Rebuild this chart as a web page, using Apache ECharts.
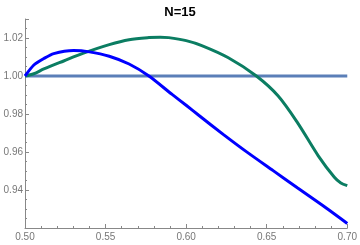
<!DOCTYPE html>
<html><head><meta charset="utf-8">
<script src="https://cdn.jsdelivr.net/npm/echarts@6/dist/echarts.min.js"></script>
<style>html,body{margin:0;padding:0;background:#fff}#c{width:360px;height:245px}</style>
</head><body><div id="c"></div>
<script>
const title = "N=15";
const xTicks = [0.50, 0.55, 0.60, 0.65, 0.70];
const yTicks = [0.94, 0.96, 0.98, 1.00, 1.02];
const blueX = [0.5000, 0.5055, 0.5117, 0.5178, 0.5302, 0.5400, 0.5523, 0.5646, 0.5769, 0.5913, 0.600, 0.608, 0.623, 0.638, 0.654, 0.669, 0.685, 0.700];
const blueY = [1.0000, 1.0058, 1.0092, 1.0118, 1.0134, 1.0127, 1.0104, 1.0063, 1.0000, 0.9903, 0.9846, 0.9792, 0.9693, 0.9598, 0.9502, 0.9412, 0.9317, 0.9224];
const greenX = [0.5000, 0.5055, 0.5117, 0.5240, 0.5363, 0.5523, 0.5646, 0.5769, 0.584, 0.5892, 0.600, 0.6097, 0.6262, 0.6436, 0.657, 0.669, 0.682, 0.692, 0.696, 0.700];
const greenY = [1.0000, 1.0012, 1.0037, 1.0079, 1.0120, 1.0165, 1.0191, 1.0202, 1.0204, 1.0202, 1.0186, 1.0160, 1.0096, 1.0000, 0.9896, 0.9756, 0.9580, 0.9467, 0.9437, 0.9423];
const refX = [0.50, 0.70];
const refY = [1.00, 1.00];
const zip = (a, b) => a.map((v, i) => [v, b[i]]);
const chart = echarts.init(document.getElementById('c'));
chart.setOption({
  animation: false,
  title: {text: title, left: 'center', top: 1, textStyle: {fontSize: 13, fontWeight: 'bold', color: '#000', fontFamily: 'Liberation Sans'}},
  grid: {left: 25, right: 10, top: 19, bottom: 17},
  xAxis: {type: 'value', min: 0.5, max: 0.7, interval: 0.05,
    axisLine: {onZero: false, lineStyle: {color: '#888'}},
    axisTick: {inside: true, length: 4, lineStyle: {color: '#888'}},
    minorTick: {show: true, splitNumber: 5, length: 2, lineStyle: {color: '#888'}},
    splitLine: {show: false},
    axisLabel: {color: '#777', fontSize: 10, margin: 4, fontFamily: 'Liberation Sans', formatter: v => v.toFixed(2)}},
  yAxis: {type: 'value', min: 0.92, max: 1.03, interval: 0.02,
    axisLine: {show: true, onZero: false, lineStyle: {color: '#888'}},
    axisTick: {show: true, inside: true, length: 4, lineStyle: {color: '#888'}},
    minorTick: {show: true, splitNumber: 4, length: 2, lineStyle: {color: '#888'}},
    splitLine: {show: false},
    axisLabel: {color: '#777', fontSize: 10, margin: 2, fontFamily: 'Liberation Sans',
      formatter: v => yTicks.some(t => Math.abs(t - v) < 1e-6) ? v.toFixed(2) : ''}},
  series: [
    {type: 'line', data: zip(refX, refY), symbol: 'none', lineStyle: {color: '#5b7fb8', width: 3}},
    {type: 'line', data: zip(greenX, greenY), symbol: 'none', smooth: 0.3, lineStyle: {color: '#0b7d62', width: 3}},
    {type: 'line', data: zip(blueX, blueY), symbol: 'none', smooth: 0.25, lineStyle: {color: '#0000ff', width: 3}}
  ]
});
</script></body></html>
